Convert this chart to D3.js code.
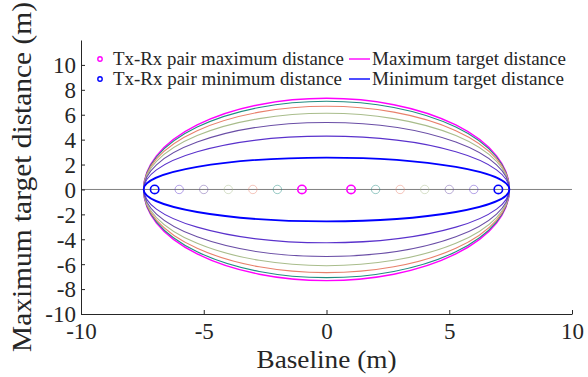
<!DOCTYPE html>
<html>
<head>
<meta charset="utf-8">
<script src="https://cdn.jsdelivr.net/npm/d3@7"></script>
<style>
body { margin: 0; background: #fff; }
text { font-family: "Liberation Serif", "DejaVu Serif", serif; fill: #262626; }
</style>
</head>
<body>
<svg id="chart" width="588" height="377"></svg>
<script>
// half baseline of each Tx-Rx pair (m), pair sits at -d and +d
var pairHalf = [1, 2, 3, 4, 5, 6, 7];
// target distance ellipse for each pair (m)
var ellipseA = [7.45, 7.45, 7.45, 7.45, 7.45, 7.45, 7.45];
var ellipseB = [7.32, 7.08, 6.68, 6.12, 5.38, 4.28, 2.56];
var xTicks = [-10, -5, 0, 5, 10];
var yTicks = [-10, -8, -6, -4, -2, 0, 2, 4, 6, 8, 10];
var legendLabels = ["Tx-Rx pair maximum distance", "Tx-Rx pair minimum distance",
                    "Maximum target distance", "Minimum target distance"];

var lineColors = ["#ff00ff", "#1f8c80", "#e8806c", "#a9bd8c", "#6a4ea6", "#5a32cc", "#0000ff"];
var lineWidths = [1.4, 1.1, 1.1, 1.1, 1.1, 1.1, 1.8];

var svg = d3.select("#chart");
var x = d3.scaleLinear().domain([-10, 10]).range([81, 572]);
var y = d3.scaleLinear().domain([-10, 12]).range([314, 40]);

// zero line
svg.append("line")
  .attr("x1", x(-10)).attr("x2", x(10))
  .attr("y1", y(0)).attr("y2", y(0))
  .attr("stroke", "#808080").attr("stroke-width", 1);

// ellipses, outer first
svg.selectAll("ellipse.rng").data(d3.range(pairHalf.length)).enter()
  .append("ellipse").attr("class", "rng")
  .attr("cx", x(0)).attr("cy", y(0))
  .attr("rx", function(i){ return x(ellipseA[i]) - x(0); })
  .attr("ry", function(i){ return y(0) - y(ellipseB[i]); })
  .attr("fill", "none")
  .attr("stroke", function(i){ return lineColors[i]; })
  .attr("stroke-width", function(i){ return lineWidths[i]; });

// pair markers
var marks = [];
pairHalf.forEach(function(d, i){ marks.push({x: -d, i: i}); marks.push({x: d, i: i}); });
svg.selectAll("circle.pair").data(marks).enter()
  .append("circle").attr("class", "pair")
  .attr("cx", function(d){ return x(d.x); }).attr("cy", y(0)).attr("r", 4.2)
  .attr("fill", "none")
  .attr("stroke", function(d){ return lineColors[d.i]; })
  .attr("stroke-width", function(d){ return (d.i == 0 || d.i == 6) ? 1.6 : 1; })
  .attr("stroke-opacity", function(d){ return (d.i == 0 || d.i == 6) ? 1 : 0.45; });

// axes, ticks inward like matlab
var xAxis = svg.append("g").attr("transform", "translate(0," + y(-10) + ")")
  .call(d3.axisBottom(x).tickValues(xTicks).tickSizeInner(-4).tickSizeOuter(0).tickPadding(9)
        .tickFormat(d3.format("d")));
var yAxis = svg.append("g").attr("transform", "translate(" + x(-10) + ",0)")
  .call(d3.axisLeft(y).tickValues(yTicks).tickSizeInner(-4).tickSizeOuter(0).tickPadding(5)
        .tickFormat(d3.format("d")));
[xAxis, yAxis].forEach(function(g){
  g.select(".domain").attr("stroke", "#262626").attr("stroke-width", 1);
  g.selectAll(".tick line").attr("stroke", "#262626");
  g.selectAll(".tick text").style("font-size", "23px").attr("fill", "#262626")
    .text(function(d){ return d < 0 ? "-" + Math.abs(d) : d; });
});
xAxis.selectAll(".tick text").attr("dy", "0.7em");
yAxis.selectAll(".tick text").attr("dy", "0.34em");

svg.append("text").attr("x", x(0)).attr("y", 368).attr("text-anchor", "middle")
  .attr("textLength", 140).attr("lengthAdjust", "spacingAndGlyphs")
  .style("font-size", "26px").text("Baseline (m)");
svg.append("text").attr("transform", "translate(31," + 177 + ") rotate(-90)")
  .attr("text-anchor", "middle").attr("textLength", 350).attr("lengthAdjust", "spacingAndGlyphs")
  .style("font-size", "27px").text("Maximum target distance (m)");

// legend
var leg = svg.append("g");
leg.append("circle").attr("cx", 100).attr("cy", 59).attr("r", 2.2)
  .attr("fill", "none").attr("stroke", "#ff00ff").attr("stroke-width", 1.4);
leg.append("circle").attr("cx", 100).attr("cy", 79).attr("r", 2.2)
  .attr("fill", "none").attr("stroke", "#0000ff").attr("stroke-width", 1.4);
leg.append("line").attr("x1", 349).attr("x2", 370).attr("y1", 59).attr("y2", 59)
  .attr("stroke", "#ff00ff").attr("stroke-width", 1.4);
leg.append("line").attr("x1", 349).attr("x2", 370).attr("y1", 79).attr("y2", 79)
  .attr("stroke", "#0000ff").attr("stroke-width", 1.4);
var lx = [113, 113, 372, 372], ly = [59, 79, 59, 79], lw = [231, 229, 194, 192];
leg.selectAll("text").data(legendLabels).enter().append("text")
  .attr("x", function(d, i){ return lx[i]; })
  .attr("y", function(d, i){ return ly[i]; })
  .attr("dy", "0.33em")
  .attr("textLength", function(d, i){ return lw[i]; })
  .attr("lengthAdjust", "spacingAndGlyphs")
  .style("font-size", "18px").text(function(d){ return d; });
</script>
</body>
</html>
